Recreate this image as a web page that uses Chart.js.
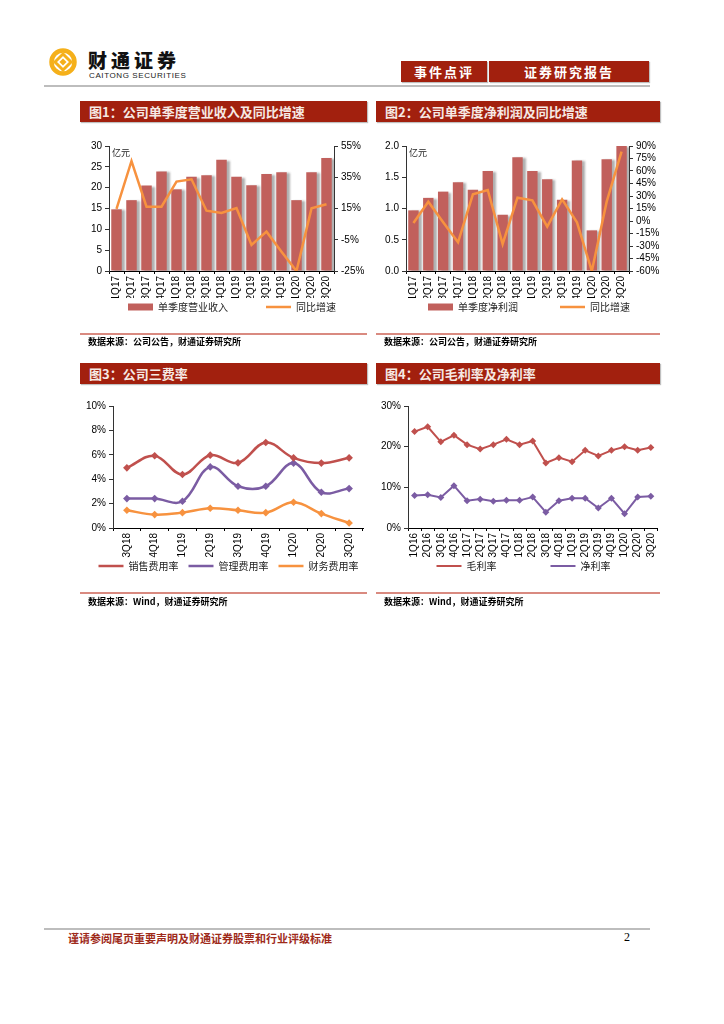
<!DOCTYPE html>
<html><head><meta charset="utf-8">
<script src="https://cdn.jsdelivr.net/npm/chart.js@4.4.0/dist/chart.umd.min.js"></script>
<style>
body{margin:0;background:#fff;width:724px;height:1024px;position:relative;overflow:hidden;font-family:"Noto Sans CJK SC","Noto Sans",sans-serif;}
.abs{position:absolute;}
.tbar{position:absolute;height:21px;background:#A2200E;color:#F6E9E4;font-size:13px;font-weight:bold;line-height:21px;padding-left:9px;box-sizing:border-box;box-shadow:1px 1px 1px rgba(0,0,0,0.25);white-space:nowrap;}
.hbox{position:absolute;top:61px;height:21px;background:#A2200E;color:#fff;font-size:13px;font-weight:bold;line-height:21px;text-align:center;letter-spacing:2px;box-shadow:1px 1px 1px rgba(0,0,0,0.25);}
.src{position:absolute;font-size:9px;font-weight:bold;color:#000;line-height:12px;white-space:nowrap;}
.rline{position:absolute;height:2px;background:#D98A80;}
.gline{position:absolute;height:2px;background:#BDBDBD;}
canvas{position:absolute;}
.unit{position:absolute;font-size:9px;color:#222;line-height:10px;}
</style></head><body>

<svg class="abs" style="left:47px;top:48px" width="32" height="28" viewBox="0 0 32 28">
  <circle cx="16" cy="14" r="11.5" fill="none" stroke="#F5B01A" stroke-width="4.5"/>
  <path d="M16 6 L24 14 L16 22 L8 14 Z" fill="#fff" stroke="#F5B01A" stroke-width="3"/>
  <rect x="13.5" y="11.5" width="5" height="5" transform="rotate(45 16 14)" fill="#F5B01A"/>
</svg>
<div class="abs" style="left:88px;top:49px;font-size:19px;font-weight:900;letter-spacing:4px;color:#111;line-height:22px;">财通证券</div>
<div class="abs" style="left:89px;top:71px;font-size:8px;letter-spacing:0.6px;color:#222;font-family:'Liberation Sans',Arial,sans-serif;line-height:9px;">CAITONG SECURITIES</div>
<div class="hbox" style="left:401px;width:86px;">事件点评</div>
<div class="hbox" style="left:489px;width:160px;">证券研究报告</div>
<div class="gline" style="left:44px;top:85px;width:606px;"></div>

<div class="tbar" style="left:80px;top:101px;width:287px;">图1：公司单季度营业收入及同比增速</div>
<div class="tbar" style="left:376px;top:101px;width:284px;">图2：公司单季度净利润及同比增速</div>

<canvas id="c1" width="290" height="221" style="left:80px;top:135px;"></canvas>
<canvas id="c2" width="290" height="225" style="left:375px;top:135px;"></canvas>
<div class="unit" style="left:112px;top:148px;">亿元</div>
<div class="unit" style="left:409px;top:148px;">亿元</div>

<div class="rline" style="left:80px;top:333px;width:287px;"></div>
<div class="rline" style="left:376px;top:333px;width:284px;"></div>
<div class="src" style="left:88px;top:336px;">数据来源：公司公告，财通证券研究所</div>
<div class="src" style="left:384px;top:336px;">数据来源：公司公告，财通证券研究所</div>

<div class="tbar" style="left:80px;top:363px;width:287px;">图3：公司三费率</div>
<div class="tbar" style="left:376px;top:363px;width:284px;">图4：公司毛利率及净利率</div>

<canvas id="c3" width="290" height="193" style="left:80px;top:395px;"></canvas>
<canvas id="c4" width="290" height="237" style="left:375px;top:395px;"></canvas>

<div class="rline" style="left:80px;top:592px;width:287px;"></div>
<div class="rline" style="left:376px;top:592px;width:284px;"></div>
<div class="src" style="left:88px;top:596px;">数据来源：Wind，财通证券研究所</div>
<div class="src" style="left:384px;top:596px;">数据来源：Wind，财通证券研究所</div>

<div class="gline" style="left:44px;top:928px;width:606px;"></div>
<div class="abs" style="left:68px;top:931px;font-size:11px;font-weight:bold;color:#9E2A1A;line-height:14px;">谨请参阅尾页重要声明及财通证券股票和行业评级标准</div>
<div class="abs" style="left:624px;top:930px;font-size:12px;color:#000;font-family:'Liberation Serif',serif;line-height:14px;">2</div>

<script>
// ---------- data ----------
const quartersA = ['1Q17','2Q17','3Q17','4Q17','1Q18','2Q18','3Q18','4Q18','1Q19','2Q19','3Q19','4Q19','1Q20','2Q20','3Q20'];
const revenue = [14.8,17.0,20.5,23.9,19.6,22.6,23.0,26.7,22.6,20.6,23.3,23.7,17.0,23.7,27.1];
const revenueYoY = [14.7,45.4,16.2,16.2,32.2,33.7,13.6,12.1,15.3,-8.3,0.2,-12.6,-25.0,15.1,17.7];
const profit = [0.97,1.17,1.27,1.42,1.30,1.60,0.90,1.82,1.60,1.47,1.14,1.77,0.65,1.79,2.00];
const profitYoY = [-2.4,23.2,-1.6,-25.6,32.0,37.2,-27.6,28.0,24.8,-6.8,26.0,-1.6,-60.0,23.2,83.2];

const quartersB = ['3Q18','4Q18','1Q19','2Q19','3Q19','4Q19','1Q20','2Q20','3Q20'];
const salesRate = [4.93,5.92,4.38,5.97,5.34,7.01,5.75,5.32,5.75];
const adminRate = [2.41,2.41,2.19,5.01,3.42,3.42,5.32,2.93,3.23];
const financeRate = [1.45,1.10,1.26,1.62,1.45,1.26,2.11,1.18,0.41];

const quartersC = ['1Q16','2Q16','3Q16','4Q16','1Q17','2Q17','3Q17','4Q17','1Q18','2Q18','3Q18','4Q18','1Q19','2Q19','3Q19','4Q19','1Q20','2Q20','3Q20'];
const grossMargin = [23.7,24.9,21.2,22.8,20.5,19.4,20.5,21.8,20.5,21.4,16.0,17.3,16.3,19.1,17.7,19.1,20.0,19.1,19.8];
const netMargin = [8.0,8.2,7.5,10.4,6.7,7.1,6.6,6.8,6.8,7.6,3.9,6.7,7.3,7.3,4.9,7.3,3.5,7.6,7.8];

const labels1 = ['单季度营业收入','同比增速'];
const labels2 = ['单季度净利润','同比增速'];
const labels3 = ['销售费用率','管理费用率','财务费用率'];
const labels4 = ['毛利率','净利率'];

// ---------- styles ----------
const BAR = '#C1605C';
const ORANGE = '#F7923F';
const RED = '#C0504D';
const PURPLE = '#7B5CA3';
const tickFont = {family:"'Liberation Sans Narrow','Arial Narrow','Liberation Sans',Arial,sans-serif", size:10};
const cjkFont = {family:"'Noto Sans CJK SC','Noto Sans',sans-serif", size:10};

const fixW = w => s => { s.width = w; };
const fixH = h => s => { s.height = h; };

const barShadow = {
  id:'barShadow',
  beforeDatasetDraw(chart, args){
    if (args.meta.type === 'bar'){ const c = chart.ctx; c.save(); c.shadowColor='rgba(80,80,80,0.45)'; c.shadowOffsetX=3; c.shadowOffsetY=1; c.shadowBlur=2; }
  },
  afterDatasetDraw(chart, args){ if (args.meta.type === 'bar') chart.ctx.restore(); }
};
const legendPlace = {
  id:'legendPlace',
  afterLayout(chart, args, opts){
    const lg = chart.legend; if (!lg || opts.y == null) return;
    const pad = lg.options.labels.padding;
    const h = lg.height;
    lg.top = opts.y - pad - 5; lg.bottom = lg.top + h;
    lg.left += (opts.dx||0); lg.right += (opts.dx||0);
  }
};

function legendOpts(pad){
  return {
    position:'bottom',
    labels:{
      font:cjkFont, color:'#222', padding:pad, usePointStyle:true, pointStyleWidth:25, boxHeight:7,
      sort:(a,b)=>a.datasetIndex-b.datasetIndex,
      generateLabels(chart){
        const items = Chart.defaults.plugins.legend.labels.generateLabels(chart);
        items.forEach(it => {
          const ds = chart.data.datasets[it.datasetIndex];
          if (ds.type === 'bar') { it.pointStyle = 'rect'; it.lineWidth = 0; it.fillStyle = ds.backgroundColor; }
          else { it.pointStyle = 'line'; it.lineWidth = ds.borderWidth; it.strokeStyle = ds.borderColor; }
        });
        return items;
      }
    }
  };
}
function xScale(h){
  return {offset:true, grid:{offset:true, drawOnChartArea:false, tickLength:3, color:'#000'}, border:{color:'#000'},
    ticks:{font:tickFont, color:'#000', minRotation:90, maxRotation:90, autoSkip:false, padding:2}, afterFit:fixH(h)};
}
function yScale(pos, min, max, step, cb, w){
  return {position:pos, min, max, grid:{drawOnChartArea:false, tickLength:4, color:'#333'}, border:{color:'#333'},
    ticks:{stepSize:step, autoSkip:false, font:tickFont, color:'#000', padding:3, callback:cb}, afterFit:fixW(w)};
}

function comboChart(id, labels, names, bars, line, yMax, yStep, yFmt, rMin, rMax, rStep, pad, dx){
  new Chart(document.getElementById(id), {
    type:'bar',
    data:{ labels, datasets:[
      {type:'bar', label:names[0], data:bars, yAxisID:'y', backgroundColor:BAR, borderWidth:0, barPercentage:0.7, categoryPercentage:1, order:2},
      {type:'line', label:names[1], data:line, yAxisID:'y1', borderColor:ORANGE, backgroundColor:ORANGE, borderWidth:2.5, pointRadius:0, tension:0, order:1}
    ]},
    options:{
      responsive:false, animation:false, devicePixelRatio:1,
      layout:{padding:{top:11,left:0,right:0,bottom:0}},
      plugins:{legend:legendOpts(pad), tooltip:{enabled:false}, legendPlace:{y:172, dx}},
      scales:{
        x:xScale(27),
        y:yScale('left', 0, yMax, yStep, yFmt, id==='c1'?29:31),
        y1:yScale('right', rMin, rMax, rStep, v=>v+'%', 36)
      }
    },
    plugins:[barShadow, legendPlace]
  });
}
comboChart('c1', quartersA, labels1, revenue, revenueYoY, 30, 5, v=>v, -25, 55, 20, 38, 7);
comboChart('c2', quartersA, labels2, profit, profitYoY, 2.0, 0.5, v=>Number(v).toFixed(1), -60, 90, 15, 42, 9);

function lineChart(id, labels, names, series, colors, yMax, yStep, tension, pad, dx, rightPad, radius, bw){
  new Chart(document.getElementById(id), {
    type:'line',
    data:{ labels, datasets: series.map((d,i)=>({
      label:names[i], data:d, borderColor:colors[i], backgroundColor:colors[i], borderWidth:bw,
      pointStyle:'rectRot', pointRadius:radius, pointBackgroundColor:colors[i], pointBorderWidth:0, tension
    }))},
    options:{
      responsive:false, animation:false, devicePixelRatio:1,
      layout:{padding:{top:11,left:0,right:rightPad,bottom:0}},
      plugins:{legend:legendOpts(pad), tooltip:{enabled:false}, legendPlace:{y:171, dx}},
      scales:{
        x:xScale(30),
        y:yScale('left', 0, yMax, yStep, v=>v+'%', 33)
      }
    },
    plugins:[legendPlace]
  });
}
lineChart('c3', quartersB, labels3, [salesRate, adminRate, financeRate], [RED, PURPLE, ORANGE], 10, 2, 0.38, 10, 7, 7, 3.8, 2.5);
lineChart('c4', quartersC, labels4, [grossMargin, netMargin], [RED, PURPLE], 30, 10, 0, 54, 7, 7, 3.5, 2);
</script>
</body></html>
